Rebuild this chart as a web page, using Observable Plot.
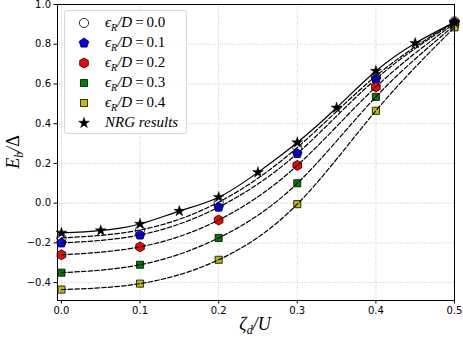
<!DOCTYPE html>
<html>
<head>
<meta charset="utf-8">
<script src="https://cdn.jsdelivr.net/npm/d3@7"></script>
<script src="https://cdn.jsdelivr.net/npm/@observablehq/plot@0.6"></script>
<style>
  html, body { margin: 0; padding: 0; background: #fff; }
  #wrap { position: relative; width: 463px; height: 342px; }
  .math { font-family: "Liberation Serif", serif; font-style: italic; position: absolute; white-space: nowrap; color: #000; }
  #legend { position: absolute; left: 64px; top: 10px; width: 123px; height: 124px; border: 1px solid #d6d6d6; border-radius: 3px; background: rgba(255,255,255,0.85); box-sizing: border-box; }
  .row { position: absolute; left: 0; height: 20px; width: 120px; }
  .row svg { position: absolute; left: 9px; top: 0; }
  .row .lab { position: absolute; left: 40px; font-family: "Liberation Serif", serif; font-style: italic; font-size: 15px; white-space: nowrap; line-height: 20px; top: -1px; }
  .row sub { font-size: 10px; }
  .up { font-style: normal; }
</style>
</head>
<body>
<div id="wrap"></div>
<script>
// ---- data ----
const zeta = [0, 0.1, 0.2, 0.3, 0.4, 0.5];
const eps00 = [-0.175, -0.135, 0.005, 0.28, 0.64, 0.915];
const eps01 = [-0.20, -0.16, -0.02, 0.25, 0.625, 0.91];
const eps02 = [-0.26, -0.22, -0.085, 0.19, 0.585, 0.905];
const eps03 = [-0.35, -0.31, -0.175, 0.10, 0.535, 0.895];
const eps04 = [-0.435, -0.405, -0.285, -0.005, 0.465, 0.885];
const nrgZeta = [0, 0.05, 0.1, 0.15, 0.2, 0.25, 0.3, 0.35, 0.4, 0.45, 0.5];
const nrgE = [-0.15, -0.138, -0.105, -0.04, 0.03, 0.155, 0.305, 0.48, 0.665, 0.805, 0.91];
const xTicks = [0, 0.1, 0.2, 0.3, 0.4, 0.5];
const yTicks = [-0.4, -0.2, 0.0, 0.2, 0.4, 0.6, 0.8, 1.0];
const seriesNames = ["0.0", "0.1", "0.2", "0.3", "0.4"];
const seriesValues = [eps00, eps01, eps02, eps03, eps04];

// ---- custom symbols ----
const pentagon = {
  draw(ctx, size) {
    const R = Math.sqrt(size / Math.PI) * 1.15;
    for (let i = 0; i < 5; i++) {
      const a = -Math.PI / 2 + i * 2 * Math.PI / 5;
      const x = R * Math.cos(a), y = R * Math.sin(a);
      i ? ctx.lineTo(x, y) : ctx.moveTo(x, y);
    }
    ctx.closePath();
  }
};
const hexagon = {
  draw(ctx, size) {
    const R = Math.sqrt(size / Math.PI) * 1.08;
    for (let i = 0; i < 6; i++) {
      const a = -Math.PI / 2 + i * Math.PI / 3;
      const x = R * Math.cos(a), y = R * Math.sin(a);
      i ? ctx.lineTo(x, y) : ctx.moveTo(x, y);
    }
    ctx.closePath();
  }
};
const styles = [
  {fill: "#ffffff", symbol: "circle", r: 4.6},
  {fill: "#0000ff", symbol: pentagon, r: 4.4},
  {fill: "#ff0000", symbol: hexagon, r: 4.6},
  {fill: "#008000", symbol: "square", r: 4.0},
  {fill: "#bfbf00", symbol: "square", r: 4.0}
];
const starR = 3.4;

const rows = [];
seriesValues.forEach((vals, k) => vals.forEach((v, i) => rows.push({s: seriesNames[k], k, x: zeta[i], y: v})));
const nrg = nrgZeta.map((x, i) => ({x, y: nrgE[i]}));

const marks = [
  Plot.gridX(xTicks, {stroke: "#b0b0b0", strokeOpacity: 1, strokeWidth: 0.8, strokeDasharray: "0.8,1.6"}),
  Plot.gridY(yTicks, {stroke: "#b0b0b0", strokeOpacity: 1, strokeWidth: 0.8, strokeDasharray: "0.8,1.6"}),
];
styles.forEach((st, k) => {
  marks.push(Plot.dot(rows.filter(d => d.k === k), {x: "x", y: "y", symbol: () => st.symbol, fill: st.fill, stroke: "#000", strokeWidth: 0.8, r: st.r}));
});
marks.push(Plot.dot(nrg, {x: "x", y: "y", symbol: "star", fill: "#000", stroke: "#000", strokeWidth: 0.5, r: starR}));
styles.forEach((st, k) => {
  marks.push(Plot.line(rows.filter(d => d.k === k), {x: "x", y: "y", curve: "natural", stroke: "#000", strokeWidth: 1.2, strokeDasharray: "4.5,2.2"}));
});
marks.push(Plot.line(nrg, {x: "x", y: "y", curve: "natural", stroke: "#000", strokeWidth: 1.2}));
marks.push(Plot.frame({stroke: "#000", strokeWidth: 1}));
marks.push(Plot.axisX(xTicks, {tickFormat: d3.format(".1f"), tickSize: 3.5, tickPadding: 3, label: null, fontSize: 10}));
marks.push(Plot.axisY(yTicks, {tickFormat: d3.format(".1f"), tickSize: 3.5, tickPadding: 3, label: null, fontSize: 10}));

const chart = Plot.plot({
  width: 463,
  height: 342,
  marginLeft: 57,
  marginRight: 9,
  marginTop: 4,
  marginBottom: 42,
  x: {domain: [-0.005, 0.5]},
  y: {domain: [-0.49, 1.0]},
  style: {fontFamily: "DejaVu Sans", fontSize: "10px", color: "#000", background: "#fff"},
  marks
});
const wrap = document.getElementById("wrap");
wrap.appendChild(chart);

// axis labels
const yl = document.createElement("div");
yl.className = "math";
yl.style.cssText += "font-size:18px; left:15px; top:152px; transform: translate(-50%,-50%) rotate(-90deg);";
yl.innerHTML = 'E<sub style="font-size:12px">b</sub>/<span class="up">Δ</span>';
wrap.appendChild(yl);
const xl = document.createElement("div");
xl.className = "math";
xl.style.cssText += "font-size:18px; left:255px; top:326px; transform: translate(-50%,-50%);";
xl.innerHTML = 'ζ<sub style="font-size:12px">d</sub>/U';
wrap.appendChild(xl);

// legend
const lg = document.createElement("div");
lg.id = "legend";
const labels = seriesNames.map(n => `ϵ<sub>R</sub>/D<span class="up">\u2009=\u2009${n}</span>`).concat(["NRG results"]);
const syms = styles.map(s => s.symbol).concat(["star"]);
const fills = styles.map(s => s.fill).concat(["#000"]);
const sizes = styles.map(s => s.r).concat([starR]);
labels.forEach((lab, i) => {
  const row = document.createElement("div");
  row.className = "row";
  row.style.top = (2 + i * 20) + "px";
  const svg = d3.create("svg").attr("width", 20).attr("height", 20);
  const sym = typeof syms[i] === "string" ? {circle: d3.symbolCircle, square: d3.symbolSquare, star: d3.symbolStar}[syms[i]] : syms[i];
  svg.append("path").attr("transform", "translate(10,10)")
    .attr("d", d3.symbol(sym, Math.PI * sizes[i] * sizes[i])())
    .attr("fill", fills[i]).attr("stroke", "#000").attr("stroke-width", i === 5 ? 0.5 : 0.8);
  row.appendChild(svg.node());
  const sp = document.createElement("span");
  sp.className = "lab";
  sp.innerHTML = lab;
  row.appendChild(sp);
  lg.appendChild(row);
});
wrap.appendChild(lg);
</script>
</body>
</html>
